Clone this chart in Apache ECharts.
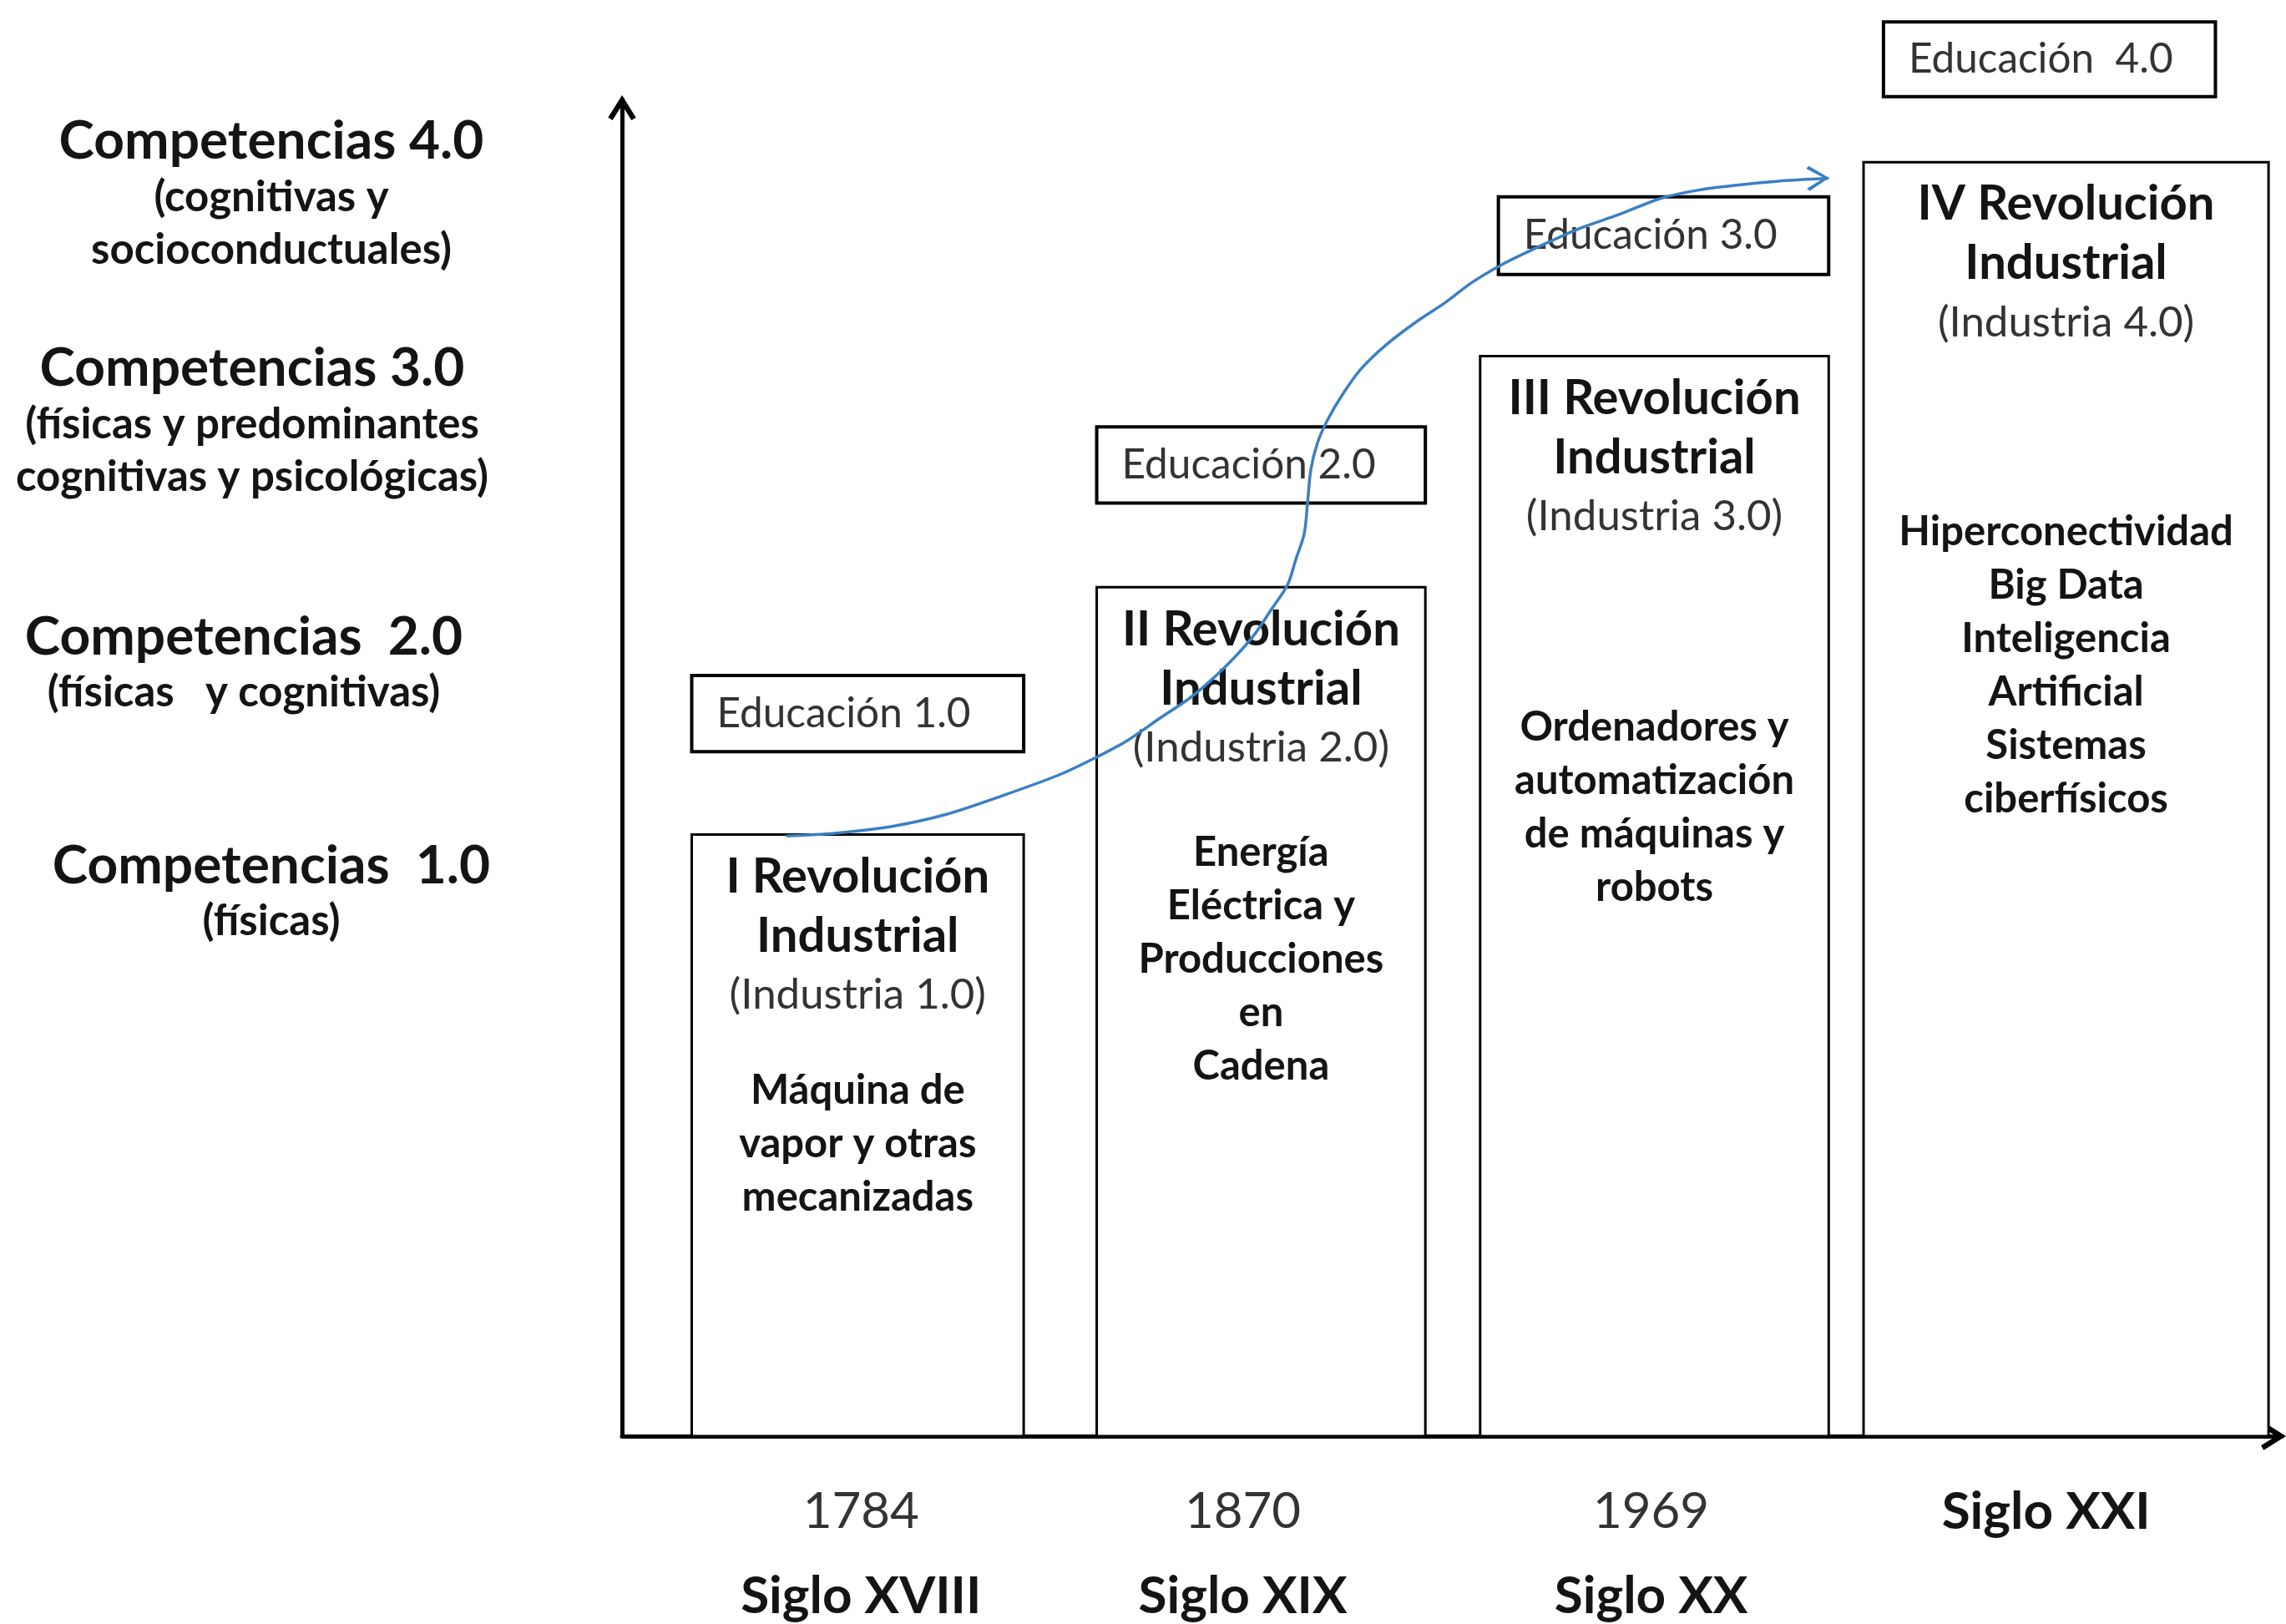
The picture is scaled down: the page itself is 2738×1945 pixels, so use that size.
<!DOCTYPE html>
<html>
<head>
<meta charset="utf-8">
<script src="https://cdn.jsdelivr.net/npm/echarts@6/dist/echarts.min.js"></script>
<style>
html,body{margin:0;padding:0;background:#fff;}
#chart{width:2738px;height:1945px;}
</style>
</head>
<body>
<div id="chart"></div>
<script>
// ---------- DATA ----------
const revoluciones = ['I Revolución\nIndustrial', 'II Revolución\nIndustrial', 'III Revolución\nIndustrial', 'IV Revolución\nIndustrial'];
const industria = ['(Industria 1.0)', '(Industria 2.0)', '(Industria 3.0)', '(Industria 4.0)'];
const descripciones = [
  'Máquina de\nvapor y otras\nmecanizadas',
  'Energía\nEléctrica y\nProducciones\nen\nCadena',
  'Ordenadores y\nautomatización\nde máquinas y\nrobots',
  'Hiperconectividad\nBig Data\nInteligencia\nArtificial\nSistemas\nciberfísicos'
];
const revInicio = [4.2, 28.6, 51.7, 74.8];
const revFin = [24.2, 48.4, 72.7, 99.2];
const revNivel = [45.0, 63.5, 80.8, 95.3];

const educacion = ['Educación 1.0', 'Educación 2.0', 'Educación 3.0', 'Educación  4.0'];
const eduInicio = [4.2, 28.6, 52.8, 76.0];
const eduFin = [24.2, 48.4, 72.7, 96.0];
const eduBase = [51.2, 69.8, 86.9, 100.2];
const eduTecho = [56.9, 75.5, 92.7, 105.8];

const competencias = ['Competencias  1.0', 'Competencias  2.0', 'Competencias 3.0', 'Competencias 4.0'];
const competenciasDetalle = ['(físicas)', '(físicas   y cognitivas)', '(físicas y predominantes\ncognitivas y psicológicas)', '(cognitivas y\nsocioconductuales)'];
const competenciasNivel = [40.7, 57.8, 75.9, 92.9];

const anios = ['1784', '1870', '1969', ''];
const siglos = ['Siglo XVIII', 'Siglo XIX', 'Siglo XX', 'Siglo XXI'];
const etiquetaX = [14.4, 37.4, 62.0, 85.8];

const curvaX = [9.9, 12.8, 16.2, 19.5, 22.9, 26.4, 28.6, 30.4, 32.4, 34.3, 36.3, 38.0, 39.1, 40.1, 40.6, 41.1, 41.3, 41.5, 41.9, 42.5, 43.4, 44.5, 46.0, 47.9, 49.6, 51.2, 53.1, 55.1, 57.6, 60.1, 62.6, 64.8, 67.3, 69.8, 72.7];
const curvaY = [44.9, 45.1, 45.6, 46.5, 47.9, 49.5, 50.8, 52.0, 53.7, 55.3, 57.5, 59.8, 61.8, 63.7, 65.6, 67.5, 69.8, 72.3, 74.3, 76.0, 77.9, 79.8, 81.6, 83.4, 84.8, 86.3, 87.7, 88.9, 90.3, 91.4, 92.6, 93.2, 93.6, 93.9, 94.1];

// ---------- STYLE ----------
const FONT = 'Lato, "Open Sans", sans-serif';
const INK = '#141414';
const GREY = '#333333';
const BLUE = '#3b7fc3';
const titleOffset = 15;                    // px from box top to title block
const bodyOffset = [275, 286, 413, 411];   // px from box top to description block
const labelShift = [0, 66, 46, 0];         // extra right padding of left labels (shifts them left by half)

const chart = echarts.init(document.getElementById('chart'), null, {renderer: 'canvas'});

const revData = revInicio.map((x0, i) => [x0, revFin[i], revNivel[i]]);
const eduData = eduInicio.map((x0, i) => [x0, eduFin[i], eduBase[i], eduTecho[i]]);
const curveData = curvaX.map((x, i) => {
  if (i === curvaX.length - 1) {
    return {
      value: [x, curvaY[i]],
      symbol: 'path://M0,2.5 L2.5,0 L22,12 L2.5,24 L0,21.5 L17,12 Z',
      symbolSize: [27, 30],
      symbolOffset: ['-48%', 0],
      symbolRotate: 2,
      itemStyle: {color: BLUE}
    };
  }
  return [x, curvaY[i]];
});

const chevronUp = 'path://M0,16 L10,0 L20,16 L16.8,18 L10,7.2 L3.2,18 Z';

const yRich = {};
labelShift.forEach((p, i) => {
  yRich['c' + i] = {fontFamily: FONT, fontSize: 64, fontWeight: 'bold', color: INK, lineHeight: 70, align: 'center', padding: [0, p, 0, 0]};
  yRich['d' + i] = {fontFamily: FONT, fontSize: 51, fontWeight: 'bold', color: INK, lineHeight: 63, align: 'center', padding: [0, p, 0, 0]};
});

const option = {
  backgroundColor: '#ffffff',
  animation: false,
  grid: {left: 745, right: 5, top: 119, bottom: 225, containLabel: false, outerBoundsMode: 'none'},
  xAxis: {
    type: 'value', min: 0, max: 100,
    splitLine: {show: false},
    axisTick: {show: false},
    axisLine: {show: true, lineStyle: {color: '#000', width: 5}, symbol: ['none', chevronUp], symbolSize: [34, 30], symbolOffset: [0, -10]},
    axisLabel: {
      show: true,
      customValues: etiquetaX,
      margin: 40,
      formatter: function (v) {
        const i = etiquetaX.indexOf(v);
        if (i < 0) return '';
        if (!anios[i]) return '{s|' + siglos[i] + '}\n{y| }';
        return '{y|' + anios[i] + '}\n{s|' + siglos[i] + '}';
      },
      rich: {
        y: {fontFamily: FONT, fontSize: 60, color: GREY, lineHeight: 101, align: 'center'},
        s: {fontFamily: FONT, fontSize: 62, fontWeight: 'bold', color: INK, lineHeight: 101, align: 'center'}
      }
    }
  },
  yAxis: {
    type: 'value', min: 0, max: 100,
    splitLine: {show: false},
    axisTick: {show: false},
    axisLine: {show: true, lineStyle: {color: '#000', width: 5}, symbol: ['none', chevronUp], symbolSize: [34, 30], symbolOffset: [0, -10]},
    axisLabel: {
      show: true,
      customValues: competenciasNivel,
      margin: 420,
      align: 'center',
      verticalAlign: 'middle',
      formatter: function (v) {
        const i = competenciasNivel.indexOf(v);
        if (i < 0) return '';
        const lines = competenciasDetalle[i].split('\n').map(l => '{d' + i + '|' + l + '}');
        return '{c' + i + '|' + competencias[i] + '}\n' + lines.join('\n');
      },
      rich: yRich
    }
  },
  series: [
    {
      type: 'custom',
      name: 'Revoluciones',
      clip: false,
      z: 2,
      data: revData,
      renderItem: function (params, api) {
        const i = params.dataIndex;
        const p0 = api.coord([api.value(0), api.value(2)]);
        const p1 = api.coord([api.value(1), 0]);
        const cx = (p0[0] + p1[0]) / 2;
        const titleLines = revoluciones[i].split('\n').map(l => '{t|' + l + '}').join('\n');
        const bodyLines = descripciones[i].split('\n').map(l => '{b|' + l + '}').join('\n');
        return {
          type: 'group',
          children: [
            {type: 'rect', shape: {x: p0[0], y: p0[1], width: p1[0] - p0[0], height: p1[1] - p0[1]},
             style: {fill: '#fff', stroke: '#000', lineWidth: 3}},
            {type: 'text', x: cx, y: p0[1] + titleOffset, style: {
              text: titleLines + '\n{s|' + industria[i] + '}',
              align: 'center', verticalAlign: 'top',
              rich: {
                t: {fontFamily: FONT, fontSize: 58, fontWeight: 'bold', fill: INK, lineHeight: 71, align: 'center'},
                s: {fontFamily: FONT, fontSize: 51, fill: GREY, lineHeight: 70, align: 'center'}
              }
            }},
            {type: 'text', x: cx, y: p0[1] + bodyOffset[i], style: {
              text: bodyLines,
              align: 'center', verticalAlign: 'top',
              rich: {
                b: {fontFamily: FONT, fontSize: 49, fontWeight: 'bold', fill: INK, lineHeight: 64, align: 'center'}
              }
            }}
          ]
        };
      }
    },
    {
      type: 'custom',
      name: 'Educación',
      clip: false,
      z: 2,
      data: eduData,
      renderItem: function (params, api) {
        const i = params.dataIndex;
        const p0 = api.coord([api.value(0), api.value(3)]);
        const p1 = api.coord([api.value(1), api.value(2)]);
        return {
          type: 'group',
          children: [
            {type: 'rect', shape: {x: p0[0], y: p0[1], width: p1[0] - p0[0], height: p1[1] - p0[1]},
             style: {fill: '#fff', stroke: '#000', lineWidth: 4}},
            {type: 'text', x: p0[0] + 30, y: (p0[1] + p1[1]) / 2, style: {
              text: educacion[i], fontFamily: FONT, fontSize: 49.5, fill: GREY,
              align: 'left', verticalAlign: 'middle'
            }}
          ]
        };
      }
    },
    {
      type: 'line',
      name: 'Evolución',
      z: 10,
      smooth: 0.3,
      symbol: 'none',
      showSymbol: true,
      lineStyle: {color: BLUE, width: 3.5},
      itemStyle: {color: BLUE},
      data: curveData
    }
  ]
};
chart.setOption(option);
</script>
</body>
</html>
